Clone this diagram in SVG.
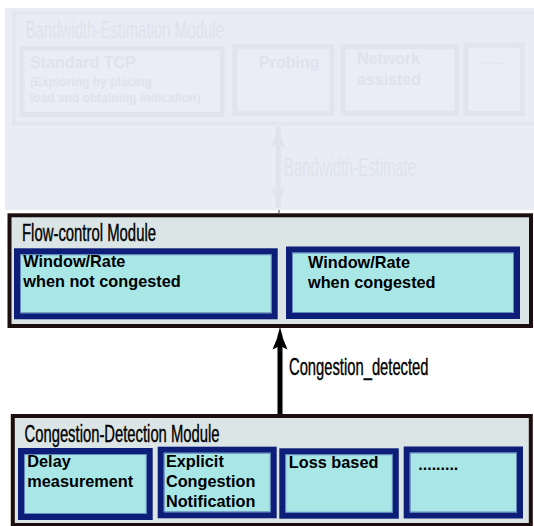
<svg xmlns="http://www.w3.org/2000/svg" width="534" height="526" viewBox="0 0 534 526">
  <style>
    .narrow { font-family: "Liberation Sans", Arial, sans-serif; font-weight: normal; }
    .bold { font-family: "Liberation Sans", Arial, sans-serif; font-weight: bold; }
    .module { fill: #dce5e5; stroke: #1c0e0e; stroke-width: 4; }
    .item { fill: #a9e7e7; stroke: #0c1e78; stroke-width: 6; }
    .item-edge { fill: none; stroke: #5672b4; stroke-width: 0.8; }
    .ink { fill: #000; }
    .ink.narrow { stroke: #000; stroke-width: 0.4; }
    .faded-bg { fill: #e9ecf5; }
    .faded-box { fill: #eaedf6; stroke: #e1e4ef; stroke-width: 5; }
    .faded-ink { fill: #dfe2ed; }
  </style>
  <defs>
    <!-- Solid arrowhead with a slightly concave flank, pointing right along the path -->
    <marker id="headFade" viewBox="0 0 22 16" refX="21" refY="8" markerWidth="22" markerHeight="16" markerUnits="userSpaceOnUse" orient="auto-start-reverse">
      <path d="M0,0.5 Q9,5 22,8 Q9,11 0,15.5 L4,8 Z" fill="#e0e3ee"/>
    </marker>
  </defs>

  <!-- Greyed-out upper layer -->
  <rect class="faded-bg" x="5" y="8" width="529" height="202"/>

  <g id="bandwidth-estimation-module">
    <rect x="14" y="13" width="530" height="110.7" fill="none" stroke="#e3e6f0" stroke-width="4"/>
    <text class="narrow faded-ink" x="25.5" y="38.3" font-size="23.5" textLength="198.5" lengthAdjust="spacingAndGlyphs">Bandwidth-Estimation Module</text>
  </g>
  <g id="standard-tcp">
    <rect class="faded-box" x="22" y="48.3" width="200" height="66.2"/>
    <text class="bold faded-ink" x="30" y="68.3" font-size="16">Standard TCP</text>
    <text class="bold faded-ink" x="30" y="86" font-size="12">(Exploring by placing</text>
    <text class="bold faded-ink" x="30" y="101.7" font-size="12">load and obtaining indication)</text>
  </g>
  <g id="probing">
    <rect class="faded-box" x="234.8" y="46.7" width="97" height="66.6"/>
    <text class="bold faded-ink" x="259" y="67.7" font-size="16">Probing</text>
  </g>
  <g id="network-assisted">
    <rect class="faded-box" x="342.8" y="46.8" width="114" height="66.2"/>
    <text class="bold faded-ink" x="357" y="64.3" font-size="16">Network</text>
    <text class="bold faded-ink" x="357" y="85" font-size="16">assisted</text>
  </g>
  <g id="bandwidth-other">
    <rect class="faded-box" x="465.8" y="45.2" width="56.5" height="68.3" stroke-width="3.7"/>
    <text class="bold faded-ink" x="481" y="63.5" font-size="9.5">.........</text>
  </g>

  <!-- Flow-control layer -->
  <g id="flow-control-module">
    <rect class="module" x="9.5" y="215.3" width="521.5" height="110.7"/>
    <text class="narrow ink" x="22" y="240.7" font-size="23" textLength="134" lengthAdjust="spacingAndGlyphs">Flow-control Module</text>
  </g>
  <g id="window-not-congested">
    <rect class="item" x="17" y="251.3" width="257.7" height="65"/>
    <rect class="item-edge" x="20.5" y="254.8" width="250.7" height="58"/>
    <text class="bold ink" x="23.3" y="266.7" font-size="16.3">Window/Rate</text>
    <text class="bold ink" x="23.3" y="287.3" font-size="16.3">when not congested</text>
  </g>
  <g id="window-congested">
    <rect class="item" x="289" y="249.5" width="228" height="66.5"/>
    <rect class="item-edge" x="292.5" y="253" width="221" height="59.5"/>
    <text class="bold ink" x="308" y="267.7" font-size="16.3">Window/Rate</text>
    <text class="bold ink" x="308" y="288.3" font-size="16.3">when congested</text>
  </g>

  <!-- Congestion-detection layer -->
  <g id="congestion-detection-module">
    <rect class="module" x="12.8" y="416" width="518" height="109"/>
    <text class="narrow ink" x="24.5" y="441.7" font-size="23" textLength="195" lengthAdjust="spacingAndGlyphs">Congestion-Detection Module</text>
  </g>
  <g id="delay-measurement">
    <rect class="item" x="21" y="451" width="128.7" height="66"/>
    <rect class="item-edge" x="24.5" y="454.5" width="121.7" height="59"/>
    <text class="bold ink" x="27.3" y="466.7" font-size="16.3">Delay</text>
    <text class="bold ink" x="27.3" y="487.3" font-size="16.3">measurement</text>
  </g>
  <g id="explicit-congestion-notification">
    <rect class="item" x="160.7" y="449.7" width="113" height="65.6"/>
    <rect class="item-edge" x="164.2" y="453.2" width="106" height="58.6"/>
    <text class="bold ink" x="165.9" y="466.7" font-size="16.3">Explicit</text>
    <text class="bold ink" x="165.9" y="486.7" font-size="16.3">Congestion</text>
    <text class="bold ink" x="165.9" y="506.7" font-size="16.3">Notification</text>
  </g>
  <g id="loss-based">
    <rect class="item" x="282.3" y="451.3" width="113.5" height="64.4"/>
    <rect class="item-edge" x="285.8" y="454.8" width="106.5" height="57.4"/>
    <text class="bold ink" x="288.8" y="467.7" font-size="16.3">Loss based</text>
  </g>
  <g id="detection-other">
    <rect class="item" x="406.7" y="449.5" width="113.3" height="66"/>
    <rect class="item-edge" x="410.2" y="453" width="106.3" height="59"/>
    <text class="bold ink" x="418.3" y="470" font-size="16">.........</text>
  </g>

  <!-- Connectors -->
  <g id="connectors">
    <g id="bandwidth-estimate">
      <line x1="278.3" y1="127" x2="278.3" y2="208" stroke="#e0e3ee" stroke-width="5" marker-start="url(#headFade)" marker-end="url(#headFade)"/>
      <line x1="279" y1="210" x2="279" y2="213" stroke="#444" stroke-width="1"/>
      <text class="narrow faded-ink" x="284" y="175.7" font-size="26" textLength="132" lengthAdjust="spacingAndGlyphs">Bandwidth-Estimate</text>
    </g>
    <g id="congestion-detected">
      <line x1="280" y1="414" x2="280" y2="344" stroke="#000" stroke-width="5"/>
      <path d="M280,326.7 Q282.5,339 287.5,349.5 L280,346 L272.5,349.5 Q277.5,339 280,326.7 Z" fill="#000"/>
      <text class="narrow ink" x="289" y="375" font-size="24" textLength="139.5" lengthAdjust="spacingAndGlyphs">Congestion_detected</text>
    </g>
  </g>
</svg>
